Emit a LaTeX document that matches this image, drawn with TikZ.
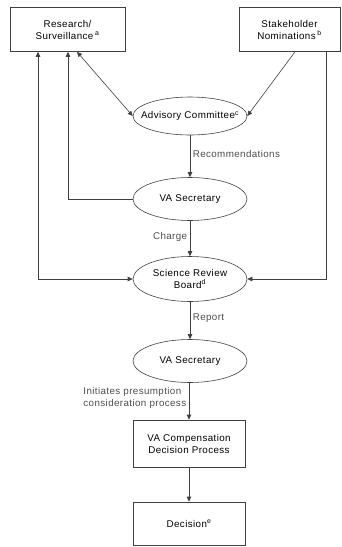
\documentclass[tikz,border=0pt]{standalone}
\usepackage{fontspec}
\setmainfont[LetterSpace=4]{Liberation Sans}
\usetikzlibrary{shapes.geometric,arrows.meta}
\begin{document}
\begin{tikzpicture}[x=1pt,y=1pt,
  font=\fontsize{9.8}{12}\selectfont,
  ln/.style={draw=black!75, line width=0.6pt},
  tip/.style={-{Triangle[length=5pt,width=4.5pt]}},
  box/.style={ln, rectangle, align=center, inner sep=0pt},
  ell/.style={ln, ellipse, align=center, inner ysep=0pt, inner xsep=-11pt},
  lab/.style={text=black!70, inner sep=2.5pt}]
\useasboundingbox (0,0) rectangle (342,-547);
\node[box, minimum width=115pt, minimum height=44pt] (rs) at (67.5,-29.5) {Research/\\Surveillance\,\textsuperscript{a}};
\node[box, minimum width=101pt, minimum height=44pt] (sn) at (289.5,-29.5) {Stakeholder\\Nominations\,\textsuperscript{b}};
\node[ell, minimum width=114pt, minimum height=38pt] (ac) at (190,-116) {Advisory Committee\textsuperscript{c}};
\node[ell, minimum width=114pt, minimum height=43pt] (vs1) at (190,-199) {VA Secretary};
\node[ell, minimum width=114pt, minimum height=45pt] (srb) at (190,-279) {Science Review\\Board\textsuperscript{d}};
\node[ell, minimum width=114pt, minimum height=43pt] (vs2) at (190,-361) {VA Secretary};
\node[box, minimum width=112pt, minimum height=47pt] (vcd) at (189,-443.5) {VA Compensation\\Decision Process};
\node[box, minimum width=112pt, minimum height=43pt] (dec) at (189,-523.5) {Decision\textsuperscript{e}};
% connectors
\draw[ln, {Triangle[length=5pt,width=4.5pt]}-{Triangle[length=5pt,width=4.5pt]}] (rs.south -| 38,0) |- (srb.west);
\draw[ln, tip] (vs1.west) -| (rs.south -| 68,0);
\draw[ln, {Triangle[length=5pt,width=4.5pt]}-{Triangle[length=5pt,width=4.5pt]}] (rs.south -| 77,0) -- (ac.west);
\draw[ln, tip] (sn.south -| 295,0) -- (ac.east);
\draw[ln, tip] (sn.south -| 326,0) |- (srb.east);
\draw[ln, tip] (ac.south -| vs1.north) -- node[lab, right, pos=0.45] {Recommendations} (vs1.north);
\draw[ln, tip] (vs1.south) -- node[lab, left, pos=0.45] {Charge} (srb.north);
\draw[ln, tip] (srb.south) -- node[lab, right, pos=0.45] {Report} (vs2.north);
\draw[ln, tip] (vs2.south -| vcd.north) -- node[lab, left, align=left, pos=0.42] {Initiates presumption\\consideration process} (vcd.north);
\draw[ln, tip] (vcd.south) -- (dec.north);
\end{tikzpicture}
\end{document}
